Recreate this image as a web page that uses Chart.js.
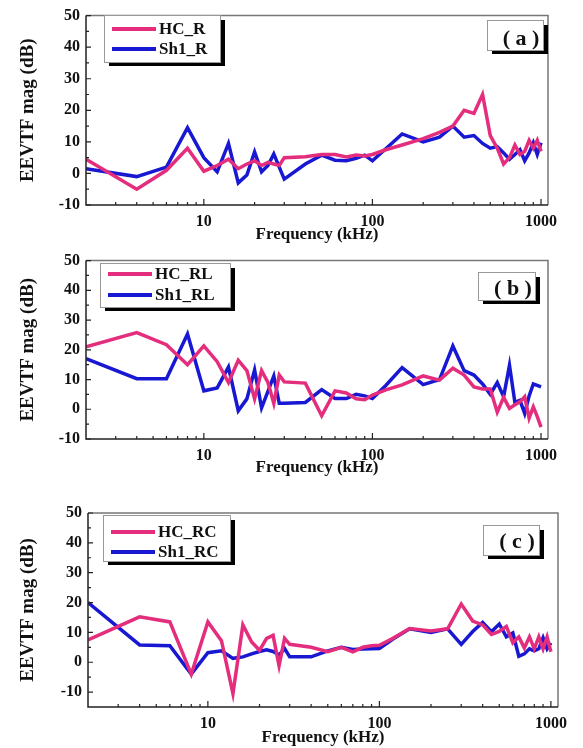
<!DOCTYPE html>
<html>
<head>
<meta charset="utf-8">
<script src="https://cdn.jsdelivr.net/npm/chart.js@4.4.0/dist/chart.umd.min.js"></script>
<style>
  body { margin: 0; background: #fff; }
  canvas { position: absolute; left: 0; }
</style>
</head>
<body>
<canvas id="chartA" width="583" height="245" style="top:0px"></canvas>
<canvas id="chartB" width="583" height="240" style="top:245px"></canvas>
<canvas id="chartC" width="583" height="263" style="top:485px"></canvas>
<script>
// frequency points (kHz), shared by all three panels
const freqKHz = [2, 4, 6, 8, 10, 12, 14, 16, 18, 20, 22, 24, 26, 28, 30, 40, 50, 60, 70, 80, 90, 100,
  120, 150, 200, 250, 300, 350, 400, 450, 500, 550, 600, 650, 700, 750, 800, 850, 900, 950, 1000];

// (a) R
const hcR  = [4.5, -5, 1, 8, 0.7, 2.5, 4.5, 1.5, 3, 4, 2.5, 3.5, 3, 2.5, 5, 5.3, 6, 6, 5.2, 5.8, 5.5, 6,
  7.5, 9, 11, 13, 15, 20, 19, 25, 12, 8, 3, 5, 9, 6, 7, 10.5, 8, 10.5, 7];
const sh1R = [1.5, -1, 2, 14.5, 5, 0.5, 9.5, -3, -0.5, 6.8, 0.5, 2.5, 6.2, 2, -1.8, 3, 5.8, 4.2, 4, 4.8, 5.8, 4,
  7.8, 12.5, 10, 11.5, 15, 11.5, 12, 9.5, 8, 8.5, 6.5, 4.5, 6, 7.5, 4, 6.5, 9.7, 6, 9.7];

// (b) RL
const hcRL  = [21, 25.8, 21.7, 15, 21.3, 16, 9, 16.5, 13, 3.5, 13, 9, 2, 11.5, 9.2, 8.8, -2.2, 6.2, 5.5, 3.5, 3.2, 4.8,
  6.5, 8.2, 11.2, 9.8, 13.8, 11.5, 7.5, 6.8, 6.8, -1, 4, 0.3, 1.5, 2.5, 4.2, -3, 0.8, -2.5, -6];
const sh1RL = [17, 10.3, 10.3, 25.3, 6.2, 7.2, 14.2, -0.5, 3.5, 13.2, 0.5, 6, 11.2, 2, 2, 2.3, 6.6, 3.6, 3.6, 5, 4.5, 3.6,
  8, 14, 8.3, 10, 21.3, 13, 11.5, 8.5, 5, 9, 4.2, 14.8, 2.3, 3, -1.4, 4.5, 8.5, 8, 7.5];

// (c) RC
const hcRC  = [7.5, 15.2, 13.5, -4, 13.5, 7.2, -10.5, 12.5, 6.8, 4, 8, 9, -1.2, 8, 6, 5, 3.5, 5, 3.5, 5, 5.5, 5.7,
  8, 11.3, 10.5, 11.2, 19.5, 13.8, 12.5, 9.3, 10.3, 12, 6.5, 8.5, 4.8, 8.5, 4.5, 8.5, 4.5, 8.5, 3.5];
const sh1RC = [20, 5.8, 5.5, -4, 3.2, 3.8, 1.3, 1.8, 2.8, 3.6, 4.2, 3.6, 2.4, 4.6, 1.8, 1.8, 3.8, 5, 4.3, 4.4, 4.5, 4.6,
  7.8, 11.2, 10, 11.2, 6, 10.3, 13.3, 10.2, 12.8, 8.5, 9.8, 2, 2.8, 4.5, 3.8, 4.5, 8.2, 4.5, 6.5];

const xTicks = [10, 100, 1000];
const xMinor = [3, 4, 5, 6, 7, 8, 9, 20, 30, 40, 50, 60, 70, 80, 90, 200, 300, 400, 500, 600, 700, 800, 900];
const yTicks = [-10, 0, 10, 20, 30, 40, 50];
const yMinor = [-5, 5, 15, 25, 35, 45];

const PINK = '#e42d7d';
const BLUE = '#1818d2';
const FONT = '"Liberation Serif", "Times New Roman", serif';

function shadowBox(ctx, x, y, w, h) {
  ctx.fillStyle = '#000';
  ctx.fillRect(x + 5, y + 5, w, h - 1);
  ctx.fillStyle = '#fff';
  ctx.fillRect(x, y, w, h);
  ctx.strokeStyle = '#999';
  ctx.lineWidth = 1;
  ctx.strokeRect(x + 0.5, y + 0.5, w, h);
}

const panelDeco = {
  id: 'panelDeco',
  afterDatasetsDraw(chart, args, opts) {
    const { ctx, chartArea: a, scales: { x, y } } = chart;
    ctx.save();
    // frame
    ctx.lineWidth = 1.5;
    ctx.strokeStyle = '#777';
    ctx.beginPath();
    ctx.moveTo(a.left, a.top); ctx.lineTo(a.right, a.top); ctx.lineTo(a.right, a.bottom);
    ctx.stroke();
    ctx.strokeStyle = '#222';
    ctx.beginPath();
    ctx.moveTo(a.left, a.top); ctx.lineTo(a.left, a.bottom); ctx.lineTo(a.right, a.bottom);
    ctx.stroke();
    // inward ticks
    ctx.lineWidth = 1.2;
    ctx.beginPath();
    yTicks.forEach(v => { const p = y.getPixelForValue(v); ctx.moveTo(a.left, p); ctx.lineTo(a.left + 5, p); });
    yMinor.forEach(v => { const p = y.getPixelForValue(v); ctx.moveTo(a.left, p); ctx.lineTo(a.left + 3, p); });
    xTicks.forEach(v => { const p = x.getPixelForValue(v); ctx.moveTo(p, a.bottom); ctx.lineTo(p, a.bottom - 6); });
    xMinor.forEach(v => { const p = x.getPixelForValue(v); ctx.moveTo(p, a.bottom); ctx.lineTo(p, a.bottom - 3); });
    ctx.stroke();

    // legend
    const L = opts.legend;
    shadowBox(ctx, L.x, L.y, L.w, L.h);
    ctx.font = 'bold 17px ' + FONT;
    ctx.textBaseline = 'middle';
    ctx.textAlign = 'left';
    chart.data.datasets.forEach((ds, i) => {
      const ly = L.rows[i];
      ctx.strokeStyle = ds.borderColor;
      ctx.lineWidth = 4;
      ctx.beginPath(); ctx.moveTo(L.x + 8, ly); ctx.lineTo(L.x + 52, ly); ctx.stroke();
      ctx.fillStyle = '#111';
      ctx.fillText(ds.label, L.x + 55, ly + 1);
    });

    // panel tag
    const T = opts.tag;
    shadowBox(ctx, T.x, T.y, T.w, T.h);
    ctx.fillStyle = '#111';
    ctx.font = 'bold 22px ' + FONT;
    ctx.textAlign = 'center';
    ctx.fillText(T.text, T.x + T.tx, T.y + T.ty);
    ctx.restore();
  }
};

function makeChart(id, box, series, yMin, legend, tag) {
  const canvas = document.getElementById(id);
  const H = canvas.height;
  const tickFont = { family: FONT, size: 16, weight: 'bold' };
  return new Chart(canvas, {
    type: 'line',
    data: {
      datasets: series.map(s => ({
        label: s.label,
        data: freqKHz.map((f, i) => ({ x: f, y: s.values[i] })),
        borderColor: s.color,
        borderWidth: 3.5,
        pointRadius: 0,
        tension: 0,
        fill: false
      }))
    },
    options: {
      responsive: false,
      animation: false,
      layout: { padding: { left: 0, top: box.top, right: 583 - box.right, bottom: box.padBottom } },
      plugins: {
        legend: { display: false },
        tooltip: { enabled: false },
        panelDeco: { legend: legend, tag: tag }
      },
      scales: {
        x: {
          type: 'logarithmic',
          min: 2,
          max: 1100,
          grid: { display: false, drawTicks: false, tickLength: 0 },
          border: { display: false },
          afterBuildTicks: s => { s.ticks = xTicks.map(v => ({ value: v })); },
          afterFit: s => { s.height = H - box.bottom - box.padBottom; },
          ticks: { callback: v => String(v), font: tickFont, color: '#111', padding: 7, maxRotation: 0, autoSkip: false },
          title: { display: true, text: 'Frequency (kHz)', font: { family: FONT, size: 17, weight: 'bold' }, color: '#111', padding: 0 }
        },
        y: {
          min: yMin,
          max: 50,
          grid: { display: false, drawTicks: false, tickLength: 0 },
          border: { display: false },
          afterBuildTicks: s => { s.ticks = yTicks.map(v => ({ value: v })); },
          afterFit: s => { s.width = box.left; },
          ticks: { font: tickFont, color: '#111', padding: 6 },
          title: { display: true, text: 'EEVTF mag (dB)', font: { family: FONT, size: 19, weight: 'bold' }, color: '#111', padding: { top: 17 } }
        }
      }
    },
    plugins: [panelDeco]
  });
}

makeChart('chartA', { left: 86, right: 548, top: 14, bottom: 205, padBottom: 0 },
  [{ label: 'HC_R', values: hcR, color: PINK }, { label: 'Sh1_R', values: sh1R, color: BLUE }],
  -10,
  { x: 104, y: 15, w: 116, h: 47, rows: [29, 49] },
  { x: 487, y: 20, w: 56, h: 30, tx: 34, ty: 19, text: '( a )' });

makeChart('chartB', { left: 86, right: 548, top: 15, bottom: 194, padBottom: 7 },
  [{ label: 'HC_RL', values: hcRL, color: PINK }, { label: 'Sh1_RL', values: sh1RL, color: BLUE }],
  -10,
  { x: 100, y: 18, w: 130, h: 44, rows: [29, 50] },
  { x: 478, y: 27, w: 57, h: 28, tx: 35, ty: 17, text: '( b )' });

makeChart('chartC', { left: 88, right: 558, top: 28, bottom: 222, padBottom: 0 },
  [{ label: 'HC_RC', values: hcRC, color: PINK }, { label: 'Sh1_RC', values: sh1RC, color: BLUE }],
  -15,
  { x: 103, y: 30, w: 127, h: 46, rows: [47, 67] },
  { x: 483, y: 40, w: 56, h: 30, tx: 34, ty: 17, text: '( c )' });
</script>
</body>
</html>
